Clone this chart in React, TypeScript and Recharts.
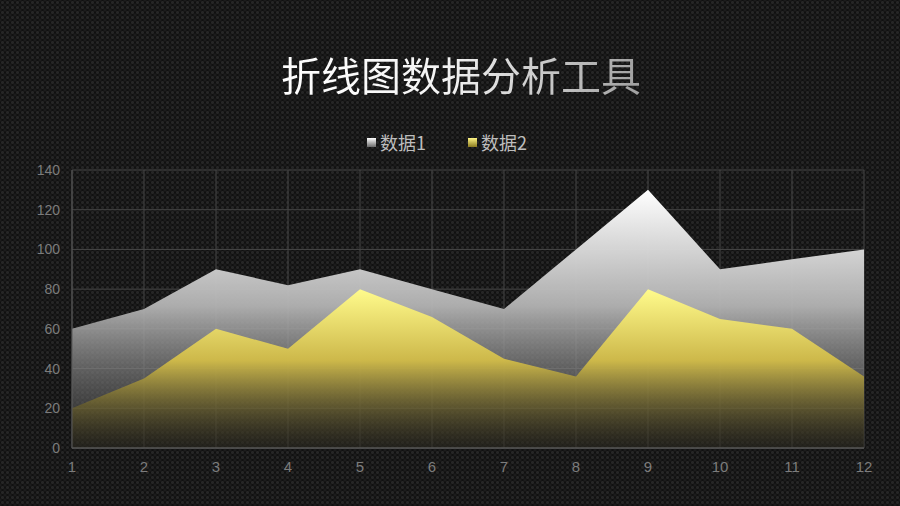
import { AreaChart, Area, XAxis, YAxis, CartesianGrid } from 'recharts'

// x categories and the two series
const months = ['1', '2', '3', '4', '5', '6', '7', '8', '9', '10', '11', '12']
const series1 = [60, 70, 90, 82, 90, 80, 70, 100, 130, 90, 95, 100]
const series2 = [20, 35, 60, 50, 80, 66, 45, 36, 80, 65, 60, 36]
const yTicks = [0, 20, 40, 60, 80, 100, 120, 140]

const data = months.map((m, i) => ({ name: m, s1: series1[i], s2: series2[i] }))

const FONT = '"Noto Sans CJK SC", "Noto Sans", sans-serif'
const TICK_FONT = '"Liberation Sans", Arial, sans-serif'

export default function App() {
  return (
    <div
      style={{
        position: 'absolute',
        left: 0,
        top: 0,
        width: 900,
        height: 506,
        overflow: 'hidden',
        fontFamily: FONT,
        background:
          'radial-gradient(circle, #262626 0, #262626 1.2px, transparent 1.8px) 0 0/5px 5px, radial-gradient(circle, #1d1d1d 0, #1d1d1d 1.2px, transparent 1.8px) 2.5px 2.5px/5px 5px, #101010',
      }}
    >
      <div
        style={{
          position: 'absolute',
          top: 48,
          left: 0,
          width: 900,
          textAlign: 'center',
          paddingLeft: 22,
          boxSizing: 'border-box',
          fontSize: 40,
          fontWeight: 400,
          lineHeight: '52px',
        }}
      >
        <span
          style={{
            background: 'linear-gradient(90deg, #ffffff 0%, #f4f4f4 45%, #a0a0a0 100%)',
            WebkitBackgroundClip: 'text',
            backgroundClip: 'text',
            color: 'transparent',
          }}
        >
          折线图数据分析工具
        </span>
      </div>

      {/* legend */}
      <div style={{ position: 'absolute', top: 129, left: 367, display: 'flex', alignItems: 'center', fontSize: 18, color: '#bdbdbd', lineHeight: '26px' }}>
        <span style={{ width: 9, height: 9, background: 'linear-gradient(#ffffff, #6a6a6a)', marginRight: 4 }} />
        <span>数据1</span>
        <span style={{ width: 9, height: 9, background: 'linear-gradient(#fff585, #8a7a20)', marginLeft: 42, marginRight: 4 }} />
        <span>数据2</span>
      </div>

      <div style={{ position: 'absolute', left: 0, top: 0 }}>
        <AreaChart width={900} height={506} data={data} margin={{ top: 170, right: 36, bottom: 0, left: 0 }}>
          <defs>
            <linearGradient id="g1" x1="0" y1="0" x2="0" y2="1">
              <stop offset="0%" stopColor="#ffffff" stopOpacity={1} />
              <stop offset="45%" stopColor="#b4b4b4" stopOpacity={0.95} />
              <stop offset="100%" stopColor="#3a3a3a" stopOpacity={0.4} />
            </linearGradient>
            <linearGradient id="g2" x1="0" y1="0" x2="0" y2="1">
              <stop offset="0%" stopColor="#fffb8c" stopOpacity={1} />
              <stop offset="45%" stopColor="#d2bc48" stopOpacity={0.95} />
              <stop offset="100%" stopColor="#1a1606" stopOpacity={0.3} />
            </linearGradient>
          </defs>
          <CartesianGrid stroke="#474747" strokeWidth={1} />
          <XAxis
            dataKey="name"
            height={58}
            tickSize={0}
            tickMargin={13}
            axisLine={{ stroke: '#666' }}
            tick={{ fill: '#7c7c7c', fontSize: 15, fontFamily: TICK_FONT }}
            interval={0}
          />
          <YAxis
            width={72}
            domain={[0, 140]}
            ticks={yTicks}
            tickSize={0}
            tickMargin={12}
            axisLine={{ stroke: '#555' }}
            tick={{ fill: '#7c7c7c', fontSize: 14, fontFamily: TICK_FONT }}
          />
          <Area type="linear" dataKey="s1" stroke="none" fill="url(#g1)" fillOpacity={1} isAnimationActive={false} />
          <Area type="linear" dataKey="s2" stroke="none" fill="url(#g2)" fillOpacity={1} isAnimationActive={false} />
        </AreaChart>
      </div>
    </div>
  )
}
